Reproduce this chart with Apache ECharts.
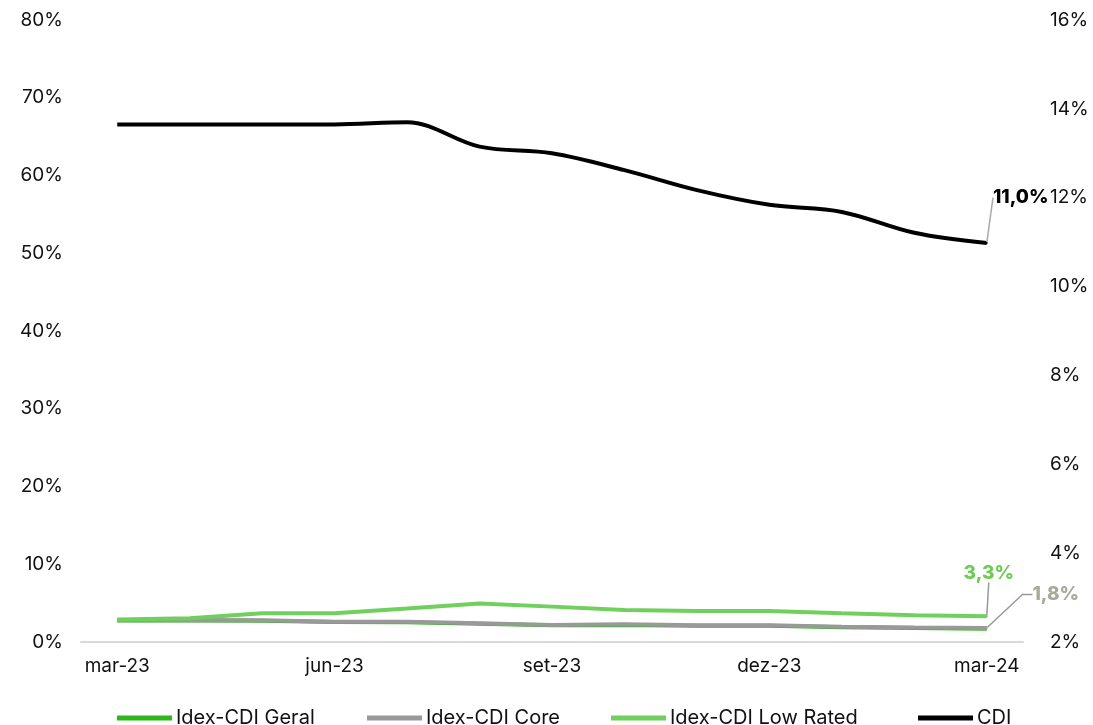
<!DOCTYPE html>
<html>
<head>
<meta charset="utf-8">
<script src="https://cdn.jsdelivr.net/npm/echarts@6/dist/echarts.min.js"></script>
<style>
html,body{margin:0;padding:0;background:#fff;}
#chart{width:1093px;height:725px;}
</style>
</head>
<body>
<div id="chart"></div>
<script>
const categories = ['mar-23','abr-23','mai-23','jun-23','jul-23','ago-23','set-23','out-23','nov-23','dez-23','jan-24','fev-24','mar-24'];
const geral = [2.75, 2.78, 2.72, 2.58, 2.55, 2.35, 2.15, 2.2, 2.1, 2.1, 1.9, 1.8, 1.72];
const core = [2.8, 2.83, 2.8, 2.6, 2.6, 2.4, 2.2, 2.27, 2.15, 2.15, 1.97, 1.85, 1.8];
const lowRated = [2.9, 3.05, 3.7, 3.7, 4.3, 4.95, 4.55, 4.1, 4.0, 4.0, 3.7, 3.45, 3.3];
const cdi = [13.65, 13.65, 13.65, 13.65, 13.7, 13.15, 13.0, 12.62, 12.17, 11.84, 11.68, 11.21, 10.98];
const leftTicks = {min: 0, max: 80, interval: 10};
const rightTicks = {min: 2, max: 16, interval: 2};
const seriesNames = ['Idex-CDI Geral', 'Idex-CDI Core', 'Idex-CDI Low Rated', 'CDI'];

const FONT = 'Inter';
const fmt = v => v.toFixed(1).replace('.', ',') + '%';

function withLastLabel(arr, color) {
  return arr.map((v, i) => i === arr.length - 1
    ? {value: v, symbol: 'circle', symbolSize: 2,
       label: {show: true, position: 'top', color: color, fontWeight: 800, fontSize: 19, fontFamily: FONT, formatter: p => fmt(p.value)}}
    : v);
}

const legendLefts = [112, 362, 606, 913];
const legends = seriesNames.map((n, i) => ({
  top: 703, left: legendLefts[i], itemWidth: 55, itemHeight: 5, itemGap: 0,
  icon: 'rect',
  textStyle: {fontFamily: FONT, fontSize: 20, color: '#111', padding: [0, 0, 0, -1]},
  data: [n]
}));

const chart = echarts.init(document.getElementById('chart'));
chart.setOption({
  animation: false,
  backgroundColor: '#fff',
  grid: {left: 81, right: 70, top: 20, bottom: 83, containLabel: false},
  legend: legends,
  xAxis: {
    type: 'category', data: categories, boundaryGap: true,
    axisLine: {lineStyle: {color: '#d9d9d9', width: 2}},
    axisTick: {interval: 2, length: 7, lineStyle: {color: '#d9d9d9', width: 2}},
    axisLabel: {interval: 2, margin: 15, fontFamily: FONT, fontSize: 19, color: '#111'}
  },
  yAxis: [
    {type: 'value', min: leftTicks.min, max: leftTicks.max, interval: leftTicks.interval,
     splitLine: {show: false}, axisLine: {show: false}, axisTick: {show: false},
     axisLabel: {formatter: '{value}%', margin: 18, fontFamily: FONT, fontSize: 19, color: '#111'}},
    {type: 'value', min: rightTicks.min, max: rightTicks.max, interval: rightTicks.interval, position: 'right',
     splitLine: {show: false}, axisLine: {show: false}, axisTick: {show: false},
     axisLabel: {formatter: '{value}%', margin: 27, fontFamily: FONT, fontSize: 19, color: '#111'}}
  ],
  series: [
    {name: seriesNames[0], type: 'line', yAxisIndex: 0, data: geral, symbol: 'none',
     color: '#2db81a', lineStyle: {width: 4, color: '#2db81a'}},
    {name: seriesNames[1], type: 'line', yAxisIndex: 0, data: withLastLabel(core, '#a8a996'),
     symbol: 'none', showSymbol: true,
     color: '#999999', lineStyle: {width: 4, color: '#999999'},
     labelLine: {show: true, length2: 10, lineStyle: {color: '#9a9a9a', width: 1.5}},
     labelLayout: () => ({dx: 69, dy: -18})},
    {name: seriesNames[2], type: 'line', yAxisIndex: 0, data: withLastLabel(lowRated, '#6ccc55'),
     symbol: 'none', showSymbol: true,
     color: '#70d05d', lineStyle: {width: 4, color: '#70d05d'},
     labelLine: {show: true, lineStyle: {color: '#9a9a9a', width: 1.5}},
     labelLayout: () => ({dx: 2, dy: -28})},
    {name: seriesNames[3], type: 'line', yAxisIndex: 1, data: withLastLabel(cdi, '#000000'),
     symbol: 'none', showSymbol: true, smooth: 0.35,
     color: '#000000', lineStyle: {width: 4, color: '#000000'},
     labelLine: {show: true, lineStyle: {color: '#aaaaaa', width: 1.5}},
     labelLayout: () => ({dx: 34, dy: -30})}
  ]
});
</script>
</body>
</html>
